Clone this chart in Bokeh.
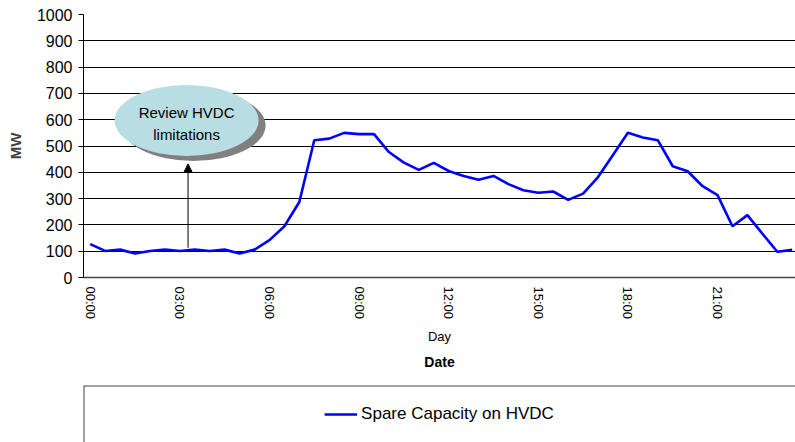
from bokeh.plotting import figure
from bokeh.layouts import column
from bokeh.models import (ColumnDataSource, FixedTicker, Legend, LegendItem, Title,
                          Arrow, NormalHead, Label, Range1d, Span)
from bokeh.embed import file_html
from bokeh.resources import INLINE

# ---- data -------------------------------------------------------------
times = ["00:00", "00:30", "01:00", "01:30", "02:00", "02:30", "03:00", "03:30",
         "04:00", "04:30", "05:00", "05:30", "06:00", "06:30", "07:00", "07:30",
         "08:00", "08:30", "09:00", "09:30", "10:00", "10:30", "11:00", "11:30",
         "12:00", "12:30", "13:00", "13:30", "14:00", "14:30", "15:00", "15:30",
         "16:00", "16:30", "17:00", "17:30", "18:00", "18:30", "19:00", "19:30",
         "20:00", "20:30", "21:00", "21:30", "22:00", "22:30", "23:00", "23:30"]
spare_mw = [127, 101, 106, 91, 101, 106, 101, 106, 101, 106, 91, 106,
            142, 195, 287, 522, 528, 550, 545, 545, 477, 437, 409, 436,
            405, 386, 372, 386, 355, 332, 322, 327, 295, 319, 382, 466,
            550, 532, 522, 423, 404, 347, 313, 195, 237, 167, 98, 105]
tick_labels = ["00:00", "03:00", "06:00", "09:00", "12:00", "15:00", "18:00", "21:00"]
y_ticks = [0, 100, 200, 300, 400, 500, 600, 700, 800, 900, 1000]
series_name = "Spare Capacity on HVDC"
note_text = "Review HVDC\nlimitations"

FONT = "Liberation Sans"

idx = list(range(len(times)))
src = ColumnDataSource(dict(x=idx, y=spare_mw, t=times))

# ---- main chart ---------------------------------------------------------
p = figure(width=795, height=380, output_backend="svg", toolbar_location=None,
           x_range=Range1d(-0.45, 47.22), y_range=Range1d(0, 1000),
           min_border_left=83, min_border_right=0, min_border_top=14,
           min_border_bottom=103)
p.outline_line_color = None
p.background_fill_color = "white"
p.border_fill_color = "white"

line = p.line("x", "y", source=src, line_color="#0000FF", line_width=2.6)

p.xgrid.grid_line_color = None
p.ygrid.grid_line_color = "#000000"
p.ygrid.grid_line_width = 1
p.ygrid.ticker = FixedTicker(ticks=y_ticks)

yax = p.yaxis[0]
yax.ticker = FixedTicker(ticks=y_ticks)
yax.axis_label = "MW"
yax.axis_label_text_font = FONT
yax.axis_label_text_font_style = "bold"
yax.axis_label_text_font_size = "15px"
yax.axis_label_standoff = 10
yax.major_label_text_font = FONT
yax.major_label_text_font_size = "16px"
yax.major_label_text_color = "#000000"
yax.major_label_standoff = 6
yax.major_tick_out = 5
yax.major_tick_in = 0
yax.minor_tick_line_color = None
yax.axis_line_color = "#000000"
yax.major_tick_line_color = "#000000"

tick_pos = [times.index(t) for t in tick_labels]
xax = p.xaxis[0]
xax.ticker = FixedTicker(ticks=tick_pos)
xax.major_label_overrides = {i: times[i] for i in tick_pos}
xax.major_label_orientation = "vertical"
xax.major_label_text_font = FONT
xax.major_label_text_font_size = "13px"
xax.major_label_text_color = "#000000"
xax.major_tick_line_color = None
xax.major_tick_out = 0
xax.major_tick_in = 0
xax.minor_tick_line_color = None
xax.major_label_standoff = 9
xax.axis_line_color = "#444444"
xax.axis_line_width = 1.5
xax.axis_label = "Day"
xax.axis_label_text_font = FONT
xax.axis_label_text_font_style = "normal"
xax.axis_label_text_font_size = "13px"
xax.axis_label_text_color = "#000000"
xax.axis_label_standoff = 7

p.add_layout(Title(text="Date", align="center", text_font=FONT, text_font_size="14px",
                   text_font_style="bold", text_color="#000000", standoff=8), "below")

# callout bubble with shadow and arrow
bx, by = 6.45, 597
p.ellipse(x=[bx + 0.47], y=[by - 19], width=144, height=71,
          width_units="screen", height_units="screen",
          fill_color="#808080", line_color=None)
p.ellipse(x=[bx], y=[by], width=144, height=71,
          width_units="screen", height_units="screen",
          fill_color="#B8DDE2", line_color=None)
p.add_layout(Label(x=bx, y=585, text=note_text, text_align="center",
                   text_baseline="middle", text_font=FONT, text_font_size="15px",
                   text_line_height=1.3, text_color="#000000"))
p.add_layout(Arrow(end=NormalHead(size=8, fill_color="#000000", line_color="#000000"),
                   x_start=6.55, y_start=113, x_end=6.55, y_end=432,
                   line_color="#000000", line_width=1))

# ---- legend panel -------------------------------------------------------
lg = figure(width=795, height=62, output_backend="svg", toolbar_location=None,
            x_range=Range1d(0, 1), y_range=Range1d(0, 1),
            min_border_left=75, min_border_right=0, min_border_top=5,
            min_border_bottom=0)
lg.axis.visible = False
lg.grid.visible = False
lg.outline_line_color = None
lg.background_fill_color = "white"
lg.border_fill_color = "white"
key = lg.line("x", "y", source=src, line_color="#0000FF", line_width=2.6, visible=False)
lg.add_layout(Span(location=0, dimension="height", line_color="#444444", line_width=2))
lg.add_layout(Span(location=1, dimension="width", line_color="#444444", line_width=2))
legend = Legend(items=[LegendItem(label=series_name, renderers=[key])],
                location="center", orientation="horizontal",
                border_line_color=None, background_fill_alpha=0,
                inactive_fill_alpha=0,
                label_text_font=FONT, label_text_font_size="17px",
                label_text_color="#000000",
                glyph_width=33, label_standoff=4, padding=4, margin=0)
lg.add_layout(legend, "center")

open("out.html", "w").write(file_html(column(p, lg, spacing=0), INLINE))
